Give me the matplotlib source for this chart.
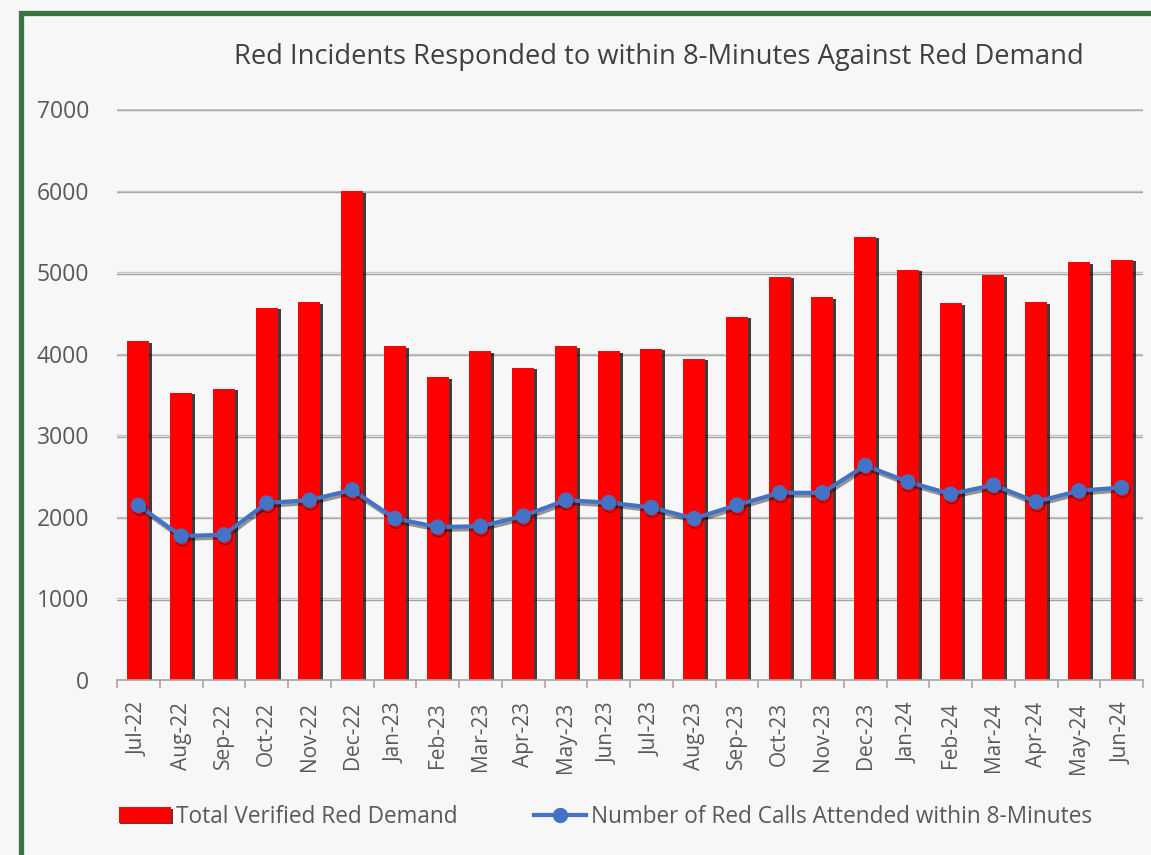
import matplotlib
matplotlib.use("Agg")
import matplotlib.pyplot as plt
import matplotlib.patheffects as pe
from matplotlib.patches import Rectangle
from matplotlib.lines import Line2D
import numpy as np

months = ["Jul-22", "Aug-22", "Sep-22", "Oct-22", "Nov-22", "Dec-22", "Jan-23", "Feb-23",
          "Mar-23", "Apr-23", "May-23", "Jun-23", "Jul-23", "Aug-23", "Sep-23", "Oct-23",
          "Nov-23", "Dec-23", "Jan-24", "Feb-24", "Mar-24", "Apr-24", "May-24", "Jun-24"]
red_demand = [4150, 3520, 3570, 4560, 4630, 5990, 4090, 3710, 4030, 3830, 4090, 4030,
              4060, 3940, 4450, 4940, 4690, 5430, 5030, 4620, 4960, 4630, 5120, 5150]
attended_8min = [2140, 1765, 1780, 2170, 2205, 2330, 1980, 1875, 1885, 2010, 2205, 2175,
                 2115, 1980, 2145, 2295, 2295, 2630, 2430, 2280, 2390, 2185, 2320, 2360]
yticks = [0, 1000, 2000, 3000, 4000, 5000, 6000, 7000]

FONT = "Open Sans"
TXT = "#595959"

fig = plt.figure(figsize=(11.51, 8.55), dpi=100)
fig.patch.set_facecolor("#f7f7f7")

W, H = 1151, 855
# green frame
fig.patches.append(Rectangle((20.5 / W, -0.1), 1.2, (855 - 13.5) / H + 0.1,
                             transform=fig.transFigure, fill=False,
                             edgecolor="#3b7442", linewidth=3.8, zorder=0))

ax = fig.add_axes([117 / W, 1 - 680 / H, (1143 - 117) / W, (680 - 109) / H])
ax.set_facecolor("#f7f7f7")
x = np.arange(len(months))

ax.set_ylim(0, 7000)
ax.set_xlim(-0.5, len(months) - 0.5)
ax.set_yticks(yticks)
ax.yaxis.grid(True, color="#c4c4c4", linewidth=1.0, zorder=0,
              path_effects=[pe.SimpleLineShadow(offset=(0, -1), shadow_color="#404040", alpha=0.45), pe.Normal()])
ax.set_axisbelow(True)

bars = ax.bar(x, red_demand, width=0.52, color="#ff0000", zorder=2,
              path_effects=[pe.SimplePatchShadow(offset=(2, -1), shadow_rgbFace="#000000", alpha=0.75), pe.Normal()])
ax.plot(x, attended_8min, color="#4472c4", linewidth=3, marker="o", markersize=10,
        zorder=3, path_effects=[pe.SimpleLineShadow(offset=(1, -2), shadow_color="#000000", alpha=0.4), pe.Normal()])

for s in ["top", "right", "left"]:
    ax.spines[s].set_visible(False)
ax.spines["bottom"].set_color("#a6a6a6")
ax.spines["bottom"].set_linewidth(1.2)

ax.set_xticks(np.arange(-0.5, len(months) + 0.5, 1.0), minor=False)
ax.set_xticklabels([])
ax.tick_params(axis="x", which="major", length=6, color="#a6a6a6", width=1.2)
ax.set_xticks(x, minor=True)
ax.set_xticklabels(months, minor=True, rotation=90, fontsize=15, color=TXT, family=FONT)
ax.tick_params(axis="x", which="minor", length=0, pad=16)

ax.set_yticklabels([str(v) for v in yticks], fontsize=16.5, color=TXT, family=FONT)
ax.tick_params(axis="y", length=0, pad=20)

fig.text(659 / W, 1 - 57 / H, "Red Incidents Responded to within 8-Minutes Against Red Demand",
         ha="center", va="center", fontsize=19.7, color="#404040", family=FONT)

handles = [Rectangle((0, 0), 1, 1, facecolor="#ff0000", edgecolor="none",
                     path_effects=[pe.SimplePatchShadow(offset=(1, -1), alpha=0.8), pe.Normal()]),
           Line2D([0], [0], color="#4472c4", linewidth=3, marker="o", markersize=10)]
leg = fig.legend(handles, ["Total Verified Red Demand", "Number of Red Calls Attended within 8-Minutes"],
                 loc="center", bbox_to_anchor=(605.5 / W, 1 - 817 / H), ncol=2, frameon=False,
                 handlelength=2.3, handletextpad=0.2, columnspacing=3.4,
                 prop={"family": FONT, "size": 16.3})
for t in leg.get_texts():
    t.set_color(TXT)

fig.savefig("out.png", dpi=100, facecolor=fig.get_facecolor())
